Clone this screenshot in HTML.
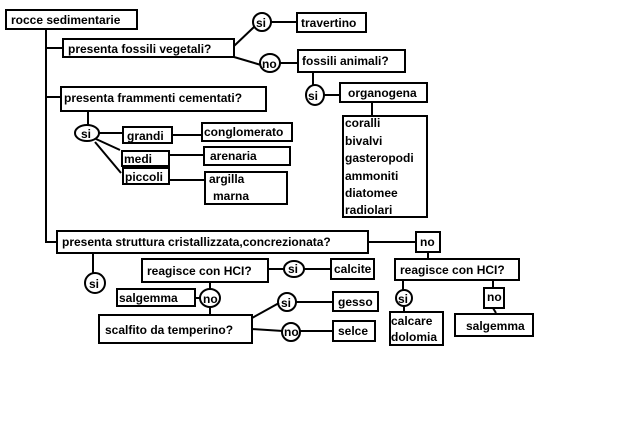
<!DOCTYPE html>
<html><head><meta charset="utf-8"><style>
html,body{margin:0;padding:0;background:#fff;}
svg{display:block;}
text{font-family:"Liberation Sans","DejaVu Sans",sans-serif;font-weight:bold;font-size:12px;fill:#000;}
</style></head><body>
<svg width="640" height="437" viewBox="0 0 640 437" xmlns="http://www.w3.org/2000/svg">
<g fill="none" stroke="#000" stroke-width="2">
<!-- main spine -->
<rect x="6" y="10" width="131" height="19"/>
<polyline points="46,29 46,242 58,242"/>
<line x1="46" y1="48" x2="63" y2="48"/>
<line x1="46" y1="97" x2="61" y2="97"/>
<!-- fossili vegetali -->
<rect x="63" y="39" width="171" height="18"/>
<line x1="234" y1="46" x2="254" y2="27"/>
<circle cx="262" cy="22" r="9"/>
<line x1="271" y1="22" x2="297" y2="22"/>
<rect x="297" y="13" width="69" height="19"/>
<line x1="234" y1="57" x2="261" y2="65"/>
<ellipse cx="270" cy="63" rx="10" ry="9"/>
<line x1="280" y1="63" x2="298" y2="63"/>
<rect x="298" y="50" width="107" height="22"/>
<line x1="313" y1="72" x2="313" y2="85"/>
<ellipse cx="315" cy="95" rx="9" ry="10"/>
<line x1="324" y1="95" x2="340" y2="95"/>
<rect x="340" y="83" width="87" height="19"/>
<line x1="372" y1="102" x2="372" y2="116"/>
<rect x="343" y="116" width="84" height="101"/>
<!-- frammenti -->
<rect x="61" y="87" width="205" height="24"/>
<line x1="88" y1="111" x2="88" y2="125"/>
<ellipse cx="87" cy="133" rx="12" ry="8"/>
<line x1="99" y1="133" x2="123" y2="133"/>
<rect x="123" y="127" width="49" height="16"/>
<line x1="172" y1="135" x2="202" y2="135"/>
<rect x="202" y="123" width="90" height="18"/>
<line x1="96" y1="139" x2="120" y2="150"/>
<rect x="122" y="151" width="47" height="15"/>
<line x1="169" y1="155" x2="204" y2="155"/>
<rect x="204" y="147" width="86" height="18"/>
<line x1="95" y1="142" x2="121" y2="173"/>
<rect x="123" y="168" width="46" height="16"/>
<line x1="169" y1="180" x2="205" y2="180"/>
<rect x="205" y="172" width="82" height="32"/>
<!-- struttura -->
<rect x="57" y="231" width="311" height="22"/>
<line x1="368" y1="242" x2="416" y2="242"/>
<rect x="416" y="232" width="24" height="20"/>
<line x1="93" y1="253" x2="93" y2="274"/>
<circle cx="95" cy="283" r="10"/>
<rect x="142" y="259" width="126" height="23"/>
<line x1="268" y1="269" x2="284" y2="269"/>
<ellipse cx="294" cy="269" rx="10" ry="8"/>
<line x1="304" y1="269" x2="331" y2="269"/>
<rect x="331" y="259" width="43" height="20"/>
<line x1="210" y1="282" x2="210" y2="290"/>
<ellipse cx="210" cy="298" rx="10" ry="9"/>
<line x1="195" y1="298" x2="200" y2="298"/>
<rect x="117" y="289" width="78" height="17"/>
<line x1="210" y1="307" x2="210" y2="315"/>
<rect x="99" y="315" width="153" height="28"/>
<line x1="252" y1="318" x2="279" y2="303"/>
<ellipse cx="287" cy="302" rx="9" ry="9"/>
<line x1="296" y1="302" x2="333" y2="302"/>
<rect x="333" y="292" width="45" height="19"/>
<line x1="252" y1="329" x2="283" y2="331"/>
<ellipse cx="291" cy="332" rx="9" ry="9"/>
<line x1="300" y1="331" x2="333" y2="331"/>
<rect x="333" y="321" width="42" height="20"/>
<!-- right branch -->
<line x1="428" y1="252" x2="428" y2="259"/>
<rect x="395" y="259" width="124" height="21"/>
<line x1="403" y1="280" x2="403" y2="290"/>
<circle cx="404" cy="298" r="8"/>
<line x1="404" y1="306" x2="404" y2="312"/>
<rect x="390" y="312" width="53" height="33"/>
<line x1="493" y1="280" x2="493" y2="288"/>
<rect x="484" y="288" width="20" height="20"/>
<line x1="493" y1="308" x2="496" y2="313"/>
<rect x="455" y="314" width="78" height="22"/>
</g>
<text x="11" y="24">rocce sedimentarie</text>
<text x="68" y="53">presenta fossili vegetali?</text>
<text x="256" y="27">si</text>
<text x="301" y="27">travertino</text>
<text x="262" y="68">no</text>
<text x="302" y="65">fossili animali?</text>
<text x="308" y="100">si</text>
<text x="348" y="97">organogena</text>
<text x="345" y="127">coralli</text>
<text x="345" y="145">bivalvi</text>
<text x="345" y="162">gasteropodi</text>
<text x="345" y="180">ammoniti</text>
<text x="345" y="197">diatomee</text>
<text x="345" y="214">radiolari</text>
<text x="64" y="102">presenta frammenti cementati?</text>
<text x="81" y="138">si</text>
<text x="127" y="140">grandi</text>
<text x="204" y="136">conglomerato</text>
<text x="124" y="163">medi</text>
<text x="210" y="160">arenaria</text>
<text x="125" y="181">piccoli</text>
<text x="209" y="183">argilla</text>
<text x="213" y="200">marna</text>
<text x="62" y="246">presenta struttura cristallizzata,concrezionata?</text>
<text x="420" y="246">no</text>
<text x="89" y="288">si</text>
<text x="147" y="275">reagisce con HCI?</text>
<text x="288" y="273">si</text>
<text x="334" y="273">calcite</text>
<text x="119" y="302">salgemma</text>
<text x="203" y="303">no</text>
<text x="105" y="334">scalfito da temperino?</text>
<text x="281" y="307">si</text>
<text x="338" y="306">gesso</text>
<text x="284" y="336">no</text>
<text x="338" y="335">selce</text>
<text x="400" y="274">reagisce con HCI?</text>
<text x="398" y="303">si</text>
<text x="391" y="325">calcare</text>
<text x="391" y="341">dolomia</text>
<text x="487" y="301">no</text>
<text x="466" y="330">salgemma</text>
</svg>
</body></html>
